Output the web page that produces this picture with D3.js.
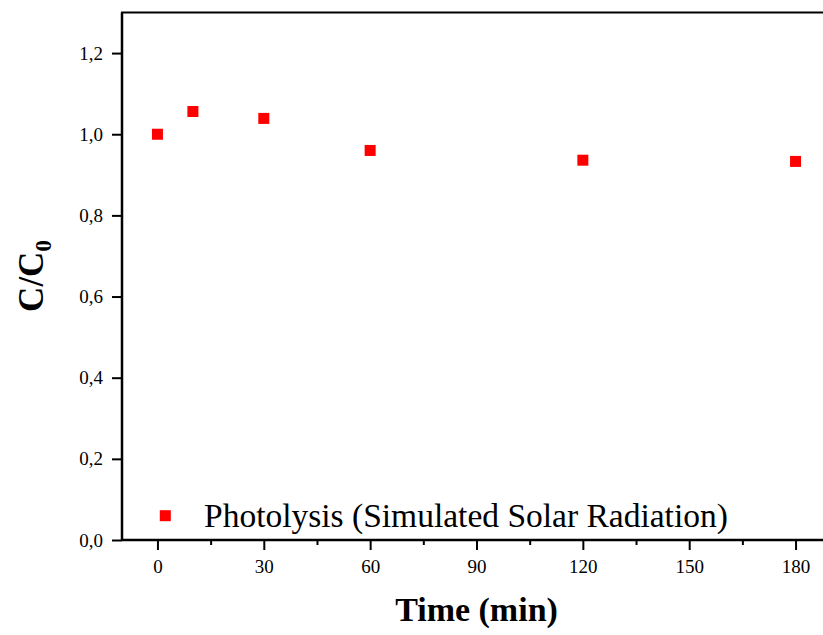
<!DOCTYPE html>
<html>
<head>
<meta charset="utf-8">
<script src="https://cdn.jsdelivr.net/npm/d3@7"></script>
<style>
  html, body { margin: 0; padding: 0; background: #fff; }
  svg { display: block; font-family: "Liberation Serif", "Times New Roman", serif; }
  svg text { font-family: "Liberation Serif", "Times New Roman", serif; }
</style>
</head>
<body>
<svg id="chart" width="823" height="635"></svg>
<script>
// ---- data ----
const timeMin = [0, 10, 30, 60, 120, 180];
const cOverC0 = [1.0, 1.056, 1.039, 0.960, 0.936, 0.933];
const xTicks = [0, 30, 60, 90, 120, 150, 180];
const xMinorTicks = [15, 45, 75, 105, 135, 165];
const yTicks = [0.0, 0.2, 0.4, 0.6, 0.8, 1.0, 1.2];
const seriesName = "Photolysis (Simulated Solar Radiation)";
const xTitle = "Time (min)";

// ---- layout ----
const svg = d3.select("#chart");
const pL = 122, pR = 831, pT = 12.5, pB = 540;
const x = d3.scaleLinear().domain([-10, 190]).range([pL, pR]);
const y = d3.scaleLinear().domain([0, 1.3]).range([pB, pT]);
const fmt = d => d3.format(".1f")(d).replace(".", ",");

// frame
svg.append("rect")
  .attr("x", pL).attr("y", pT)
  .attr("width", pR - pL).attr("height", pB - pT)
  .attr("fill", "none").attr("stroke", "#000").attr("stroke-width", 2);

// x axis
const xAxis = svg.append("g").attr("transform", `translate(0,${pB})`)
  .call(d3.axisBottom(x).tickValues(xTicks).tickFormat(d3.format("d")).tickSize(10).tickPadding(10));
svg.append("g").attr("transform", `translate(0,${pB})`)
  .call(d3.axisBottom(x).tickValues(xMinorTicks).tickFormat("").tickSize(5))
  .call(g => g.select(".domain").remove())
  .selectAll("line").attr("stroke-width", 2);
xAxis.attr("font-family", "Liberation Serif");
xAxis.select(".domain").remove();
xAxis.selectAll("line").attr("stroke-width", 2);
xAxis.selectAll("text").attr("font-size", 19).attr("fill", "#000");

// y axis
const yAxis = svg.append("g").attr("transform", `translate(${pL},0)`)
  .call(d3.axisLeft(y).tickValues(yTicks).tickFormat(fmt).tickSize(10).tickPadding(9));
yAxis.attr("font-family", "Liberation Serif");
yAxis.select(".domain").remove();
yAxis.selectAll("line").attr("stroke-width", 2);
yAxis.selectAll("text").attr("font-size", 19).attr("fill", "#000");

// axis lines redrawn on top
svg.append("line").attr("x1", pL).attr("x2", pR).attr("y1", pB).attr("y2", pB)
  .attr("stroke", "#000").attr("stroke-width", 2.5);
svg.append("line").attr("x1", pL).attr("x2", pL).attr("y1", pT).attr("y2", pB)
  .attr("stroke", "#000").attr("stroke-width", 2.5);

// points
const ms = 11;
svg.append("g").selectAll("rect").data(timeMin.map((t, i) => [t, cOverC0[i]]))
  .join("rect")
  .attr("x", d => x(d[0]) - ms / 2).attr("y", d => y(d[1]) - ms / 2)
  .attr("width", ms).attr("height", ms).attr("fill", "#ff0000");

// legend
svg.append("rect").attr("x", 165.3 - ms / 2).attr("y", 515.7 - ms / 2)
  .attr("width", ms).attr("height", ms).attr("fill", "#ff0000");
svg.append("text").attr("x", 204).attr("y", 527)
  .attr("font-size", 33.5).attr("fill", "#000").text(seriesName);

// axis titles
svg.append("text").attr("x", (x(0) + x(180)) / 2).attr("y", 621)
  .attr("text-anchor", "middle").attr("font-size", 34).attr("font-weight", "bold")
  .text(xTitle);
const yt = svg.append("text").attr("transform", "translate(43,276) rotate(-90)")
  .attr("text-anchor", "middle").attr("font-size", 35).attr("font-weight", "bold");
yt.append("tspan").text("C/C");
yt.append("tspan").attr("font-size", 23).attr("dy", 8).text("0");
</script>
</body>
</html>
